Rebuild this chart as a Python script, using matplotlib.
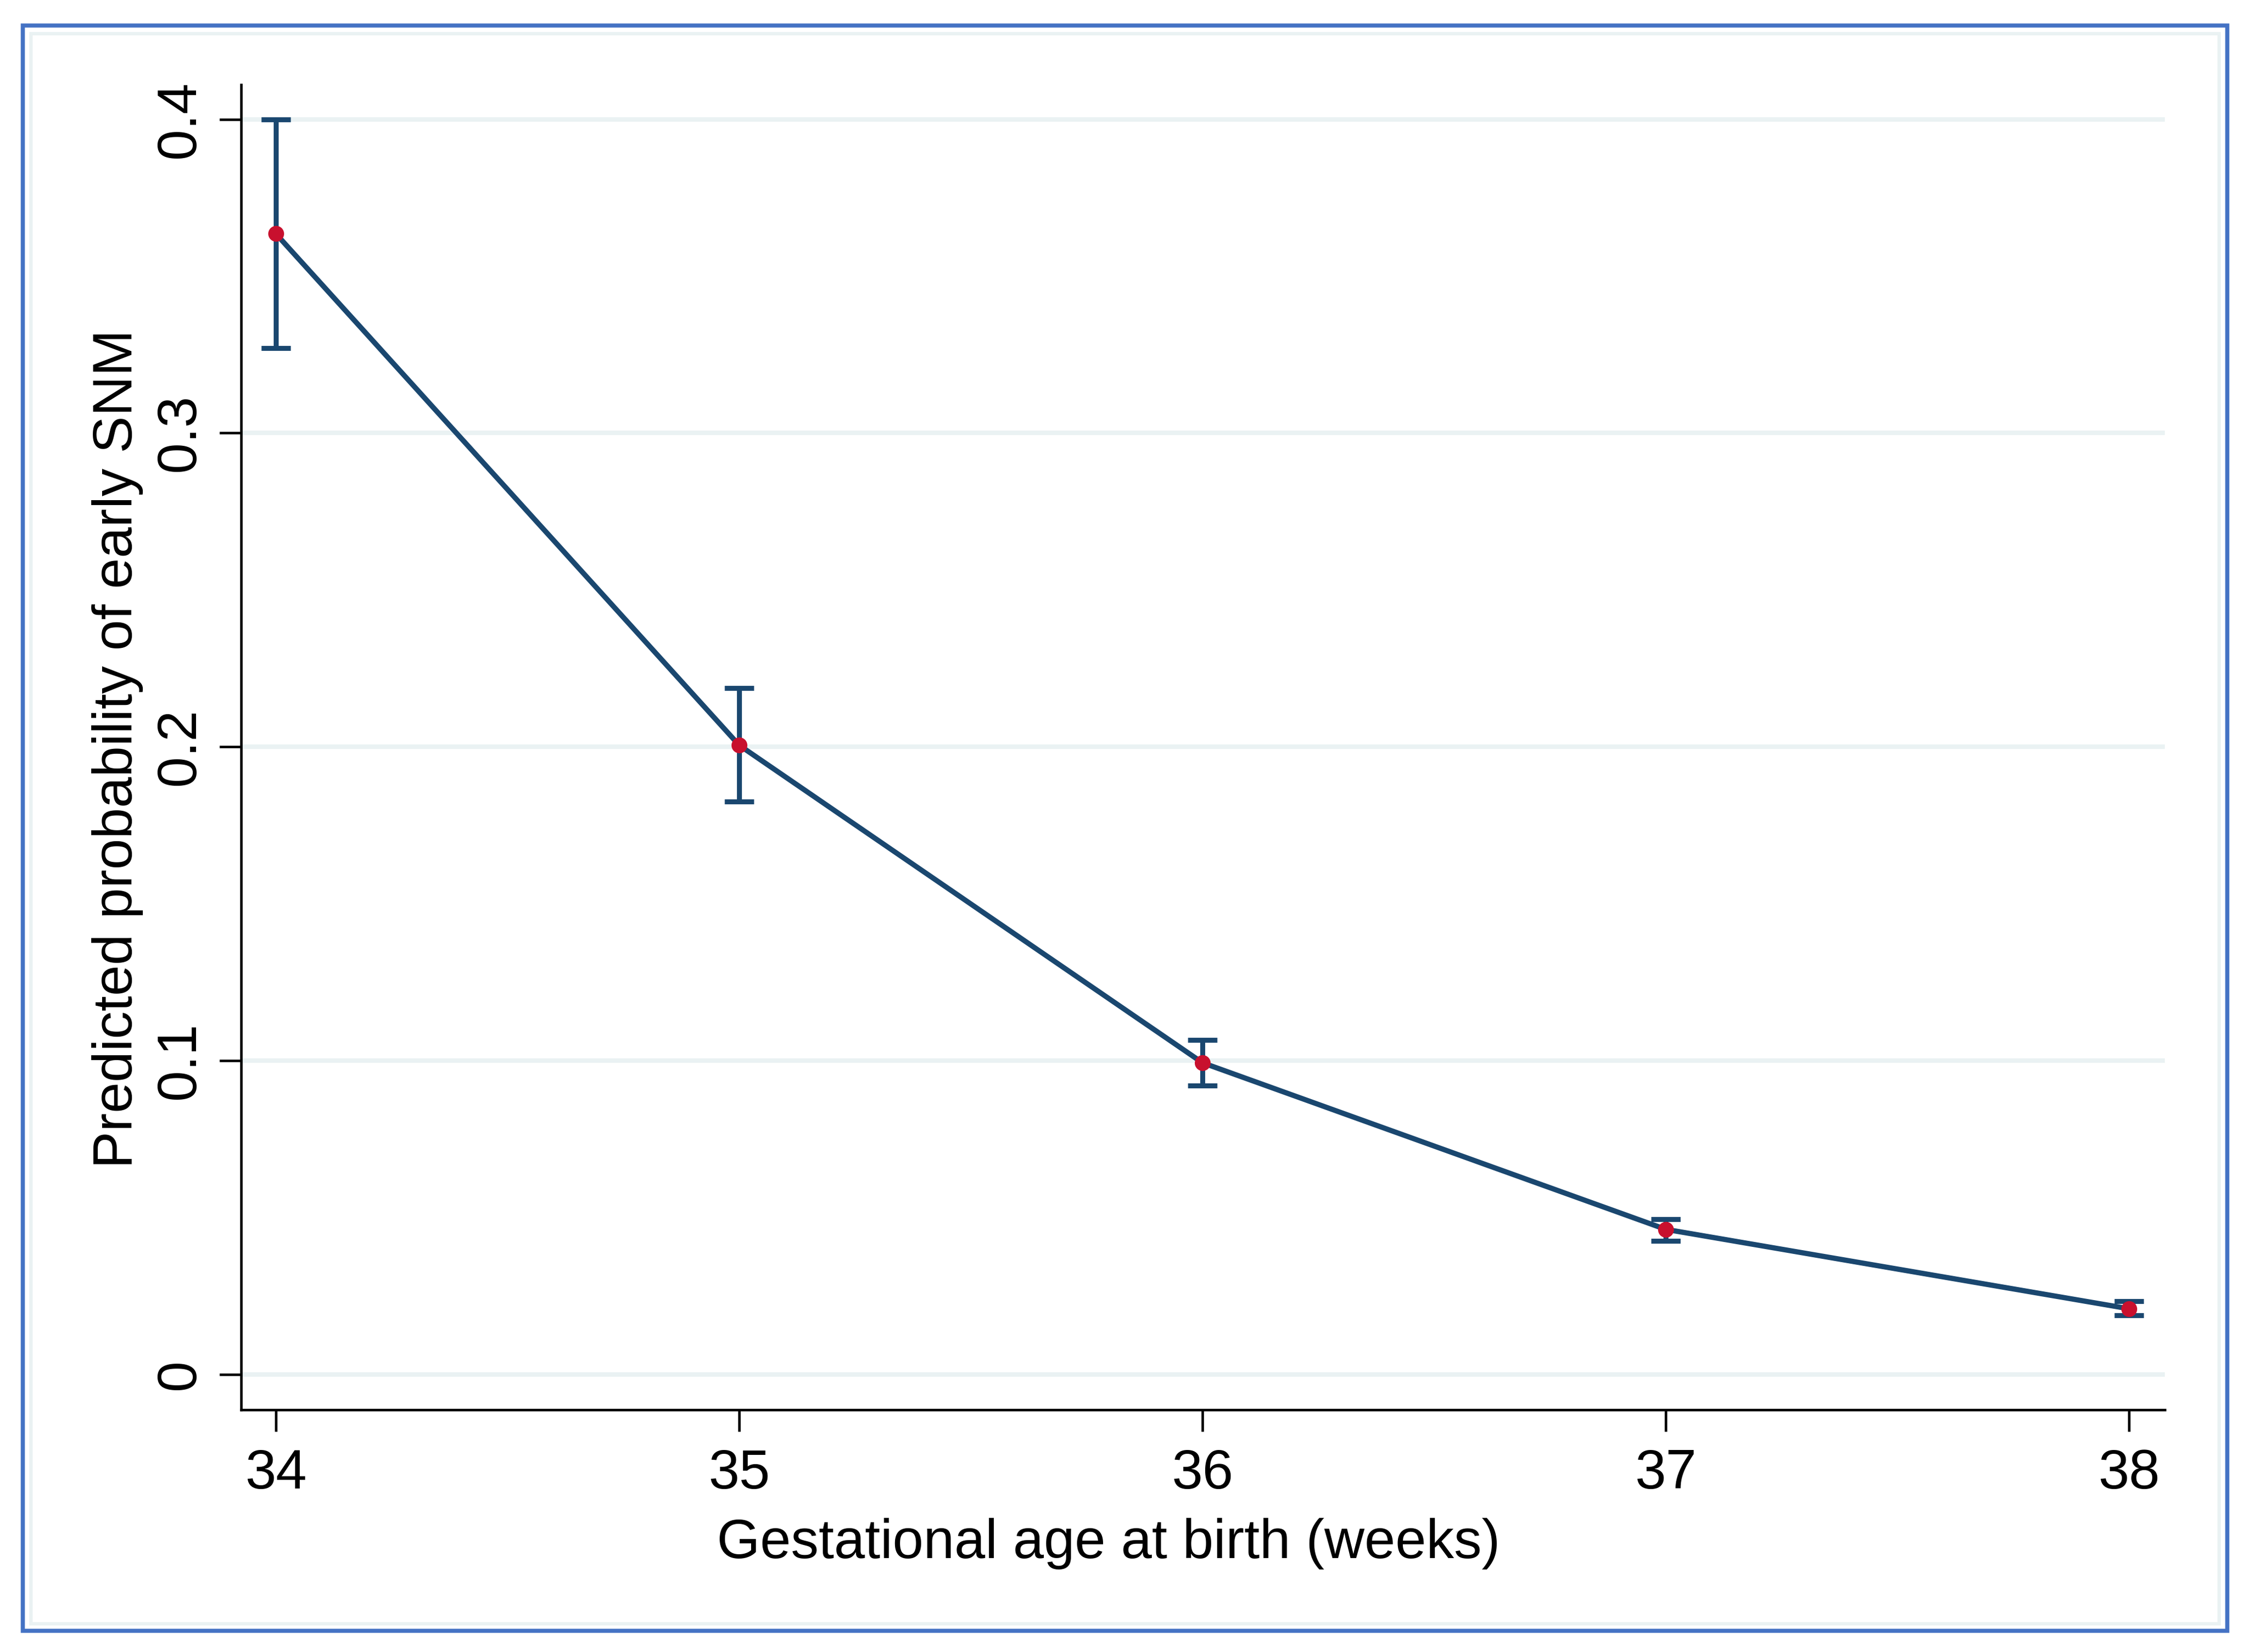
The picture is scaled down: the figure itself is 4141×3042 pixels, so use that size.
import matplotlib
matplotlib.use("Agg")
import matplotlib.pyplot as plt
from matplotlib.patches import Rectangle

plt.rcParams['font.family'] = ['Liberation Sans', 'DejaVu Sans']

# predicted probabilities with 95% CI
weeks = [34, 35, 36, 37, 38]
pred = [0.3635, 0.2005, 0.0993, 0.0462, 0.0209]
ci_lo = [0.327, 0.1826, 0.0920, 0.0426, 0.0189]
ci_hi = [0.400, 0.2188, 0.1066, 0.0494, 0.0234]
yticks = [0, 0.1, 0.2, 0.3, 0.4]
ytick_labels = ['0', '0.1', '0.2', '0.3', '0.4']

navy = '#1a476f'
red = '#c8102e'
grid_col = '#eaf2f3'

fig = plt.figure(figsize=(4141 / 300, 3042 / 300), dpi=300)
fig.patch.set_facecolor('white')

# outer blue frame + pale inner frame
W, H = 4141, 3042
fig.add_artist(Rectangle((42 / W, 1 - 3003 / H), (4101 - 42) / W, (3003 - 47) / H,
                         transform=fig.transFigure, fill=False, ec='#4472c4', lw=1.8))
fig.add_artist(Rectangle((57 / W, 1 - 2990 / H), (4086 - 57) / W, (2990 - 62) / H,
                         transform=fig.transFigure, fill=False, ec=grid_col, lw=1.5))

ax = fig.add_axes([444 / W, 1 - 2596 / H, (3986 - 444) / W, (2596 - 156) / H])

for yv in yticks:
    ax.axhline(yv, color=grid_col, lw=2.0, zorder=0)

lo_err = [p - l for p, l in zip(pred, ci_lo)]
hi_err = [h - p for p, h in zip(pred, ci_hi)]
ax.errorbar(weeks, pred, yerr=[lo_err, hi_err], fmt='none', ecolor=navy,
            elinewidth=2.2, capsize=6.5, capthick=2.2, zorder=2)
ax.plot(weeks, pred, color=navy, lw=2.3, zorder=3)
ax.plot(weeks, pred, 'o', color=red, ms=7, mec='none', zorder=4)

ax.set_xlim(33.925, 38.077)
ax.set_ylim(-0.0113, 0.411)
ax.set_xticks(weeks)
ax.set_yticks(yticks)
ax.set_yticklabels(ytick_labels)
plt.setp(ax.get_yticklabels(), rotation=90, va='center')

for s in ['top', 'right']:
    ax.spines[s].set_visible(False)
for s in ['left', 'bottom']:
    ax.spines[s].set_linewidth(1.1)

ax.tick_params(axis='both', length=9.5, width=1.1, labelsize=24.5, color='black')
ax.tick_params(axis='x', pad=7.5)
ax.tick_params(axis='y', pad=6)

ax.set_xlabel('Gestational age at birth (weeks)', fontsize=24.5)
ax.xaxis.set_label_coords(0.451, -0.101)
ax.xaxis.label.set_va('center')
ax.set_ylabel('Predicted probability of early SNM', fontsize=24.5)
ax.yaxis.set_label_coords(-0.0641, 0.4988)
ax.yaxis.label.set_va('center')

fig.savefig('out.png', dpi=300, facecolor='white')
